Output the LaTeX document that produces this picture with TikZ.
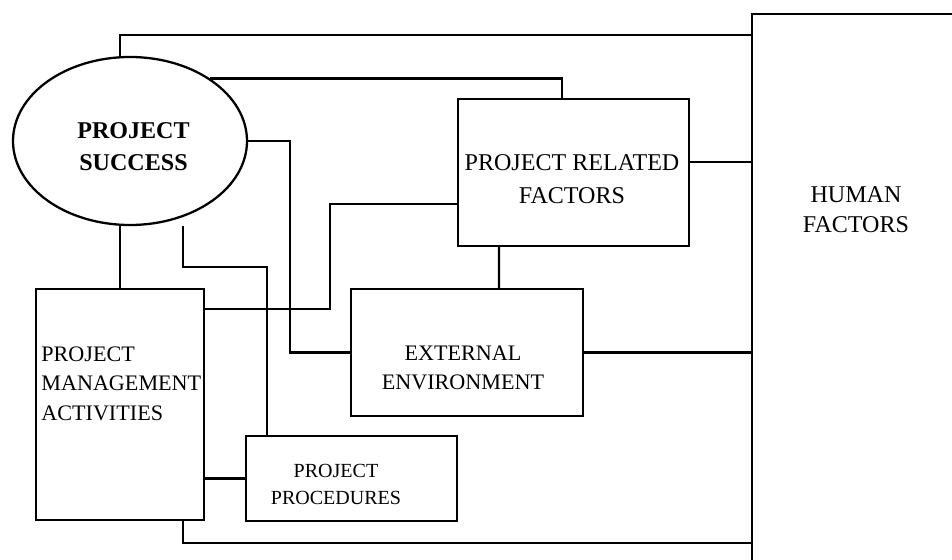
\documentclass[tikz,border=0pt]{standalone}
\usepackage{fontspec}
\setmainfont{Liberation Serif}
\usetikzlibrary{calc,shapes.geometric}
\tikzset{
  successoval/.style={ellipse, draw=black, line width=1.3pt, inner sep=0pt, minimum width=4.68cm, minimum height=3.36cm},
  factorbox/.style={rectangle, draw=black, line width=1.3pt, inner sep=0pt},
  boxtext/.style={align=center, inner sep=0pt},
  link/.style={line width=1.3pt, draw=black},
}

\begin{document}
\begin{tikzpicture}[x=1cm,y=1cm]
  \useasboundingbox (0,0) rectangle (19.04,-11.2);
  \clip (0,0) rectangle (19.04,-11.2);

  \node[successoval] (ps) at (2.60,-2.82) {};
  \node[factorbox, minimum width=4.62cm, minimum height=2.94cm] (prf) at (11.47,-3.45) {};
  \node[factorbox, minimum width=3.36cm, minimum height=4.62cm] (pma) at (2.40,-8.09) {};
  \node[factorbox, minimum width=4.64cm, minimum height=2.54cm] (ee) at (9.34,-7.05) {};
  \node[factorbox, minimum width=4.22cm, minimum height=1.70cm] (pp) at (7.03,-9.57) {};
  \node[factorbox, minimum width=4.96cm, minimum height=11.72cm] (hf) at (17.52,-6.14) {};

  \node[boxtext, font=\fontsize{13.7}{18.2}\selectfont\bfseries] (pstext) at (2.67,-2.93) {PROJECT\\SUCCESS};
  \node[boxtext, font=\fontsize{13.7}{18.8}\selectfont] (prftext) at (11.44,-3.58) {PROJECT RELATED\\FACTORS};
  \node[boxtext, align=left, anchor=north west, font=\fontsize{12.6}{16.8}\selectfont] (pmatext) at (0.82,-6.92) {PROJECT\\MANAGEMENT\\ACTIVITIES};
  \node[boxtext, font=\fontsize{12.6}{16.5}\selectfont] (eetext) at (9.26,-7.36) {EXTERNAL\\ENVIRONMENT};
  \node[boxtext, font=\fontsize{11.4}{15.4}\selectfont] (pptext) at (6.72,-9.68) {PROJECT\\PROCEDURES};
  \node[boxtext, font=\fontsize{13.7}{17}\selectfont] (hftext) at (17.12,-4.20) {HUMAN\\FACTORS};

  % bus lines into human factors
  \coordinate (topbus) at (0,-0.70);
  \coordinate (bottombus) at (0,-10.86);
  \coordinate (prfhf) at ($(prf.east)+(0,0.21)$);

  \draw[link] (pma.north |- ps.north) |- (hf.west |- topbus);
  \draw[link] (ps.38) -| ($(prf.north)+(-0.23,0)$);
  \draw[link] (ps.east) -- ++(0.84,0) |- (ee.west);
  \draw[link] ($(prf.west)+(0,-0.63)$) -- ++(-2.54,0) |- ($(pma.north east)+(0,-0.42)$);
  \draw[link] ($(ps.south)+(1.06,0)$) -- ++(0,-0.82) -| ($(pp.north)+(-1.69,0)$);
  \draw[link] (pma.north) -- (pma.north |- ps.south);
  \draw[link] ($(prf.south)+(-1.49,0)$) -- ($(ee.north)+(0.64,0)$);
  \draw[link] (prfhf) -- (prfhf -| hf.west);
  \draw[link] (ee.east) -- (ee.east -| hf.west);
  \draw[link] (pp.west) -- (pp.west -| pma.east);
  \draw[link] ($(pma.south)+(1.26,0)$) |- (hf.west |- bottombus);
\end{tikzpicture}
\end{document}
